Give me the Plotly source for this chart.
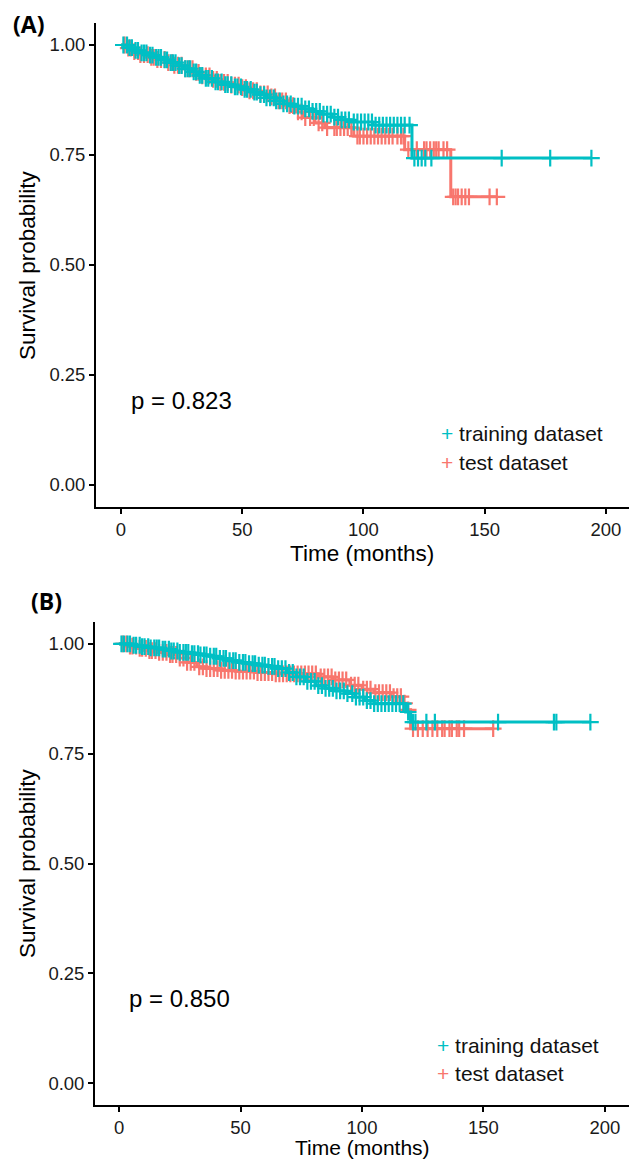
import numpy as np
import plotly.graph_objects as go

# ---------------- data ----------------
# Panel A: step points (time in months, survival after the step)
a_train_t = [0, 3, 5, 8, 11, 14, 17, 20, 23, 26, 29, 32, 35, 38, 42, 46, 50, 54, 57, 60, 64, 67, 71, 75, 79, 83, 87, 91, 95, 104, 120]
a_train_s = [1.0, 0.994, 0.988, 0.982, 0.977, 0.972, 0.966, 0.960, 0.953, 0.946, 0.939, 0.931, 0.924, 0.916, 0.910, 0.905, 0.899, 0.893, 0.887, 0.880, 0.873, 0.866, 0.861, 0.855, 0.849, 0.843, 0.836, 0.830, 0.825, 0.818, 0.743]
a_train_c = [1, 2.5, 3.5, 4.5, 6, 7, 8.5, 9.5, 10.5, 12, 13, 14.5, 15.5, 16.5, 18, 19, 20.5, 21.5, 22.5, 24, 25, 26.5, 27.5, 28.5, 30, 31, 32.5, 33.5, 35, 36, 37.5, 39, 40, 41.5, 43, 44, 45.5, 47, 48, 49.5, 51, 52, 53.5, 55, 56, 57.5, 59, 60, 61.5, 63, 64, 65.5, 67, 68.5, 70, 71.5, 73, 74.5, 76, 77.5, 79, 80.5, 82, 83.5, 85, 86.5, 88, 89.5, 91, 92.5, 94, 96, 97.5, 99, 100.5, 102, 103.5, 105, 106.5, 108, 109.5, 111, 112.5, 114, 115.5, 117, 119, 121, 122.5, 124, 125.5, 128, 157, 177, 194]

a_test_t = [0, 2, 5, 8, 12, 15, 19, 22, 26, 30, 33, 37, 41, 45, 49, 53, 57, 61, 65, 69, 72, 75, 80, 84, 96, 117, 136]
a_test_s = [1.0, 0.993, 0.985, 0.978, 0.972, 0.967, 0.960, 0.954, 0.946, 0.938, 0.930, 0.922, 0.915, 0.909, 0.903, 0.896, 0.889, 0.882, 0.873, 0.862, 0.848, 0.835, 0.823, 0.812, 0.793, 0.762, 0.655]
a_test_c = [1.5, 3, 4, 5.5, 7, 8, 9.5, 11, 12.5, 13.5, 15, 16.5, 18, 19.5, 21, 22, 23.5, 25, 26.5, 28, 29.5, 31, 32, 33.5, 35, 36.5, 38, 39.5, 41, 42.5, 44, 45.5, 47, 48.5, 50, 51.5, 53, 54.5, 56, 57.5, 59, 60.5, 62, 63.5, 65, 66.5, 68, 69.5, 71, 73, 74.5, 76, 78, 79.5, 81.5, 83, 85, 88, 89, 90.5, 92, 93.5, 95, 97.5, 98.5, 100, 101.5, 103, 104.5, 106, 107.5, 109, 110.5, 112, 114, 115.5, 116.5, 118.5, 120, 122, 125, 126, 127.5, 129, 130, 131, 133, 134.5, 137, 138, 139, 140.5, 142, 143.5, 152, 155]

# Panel B
b_train_t = [0, 5, 9, 13, 17, 21, 25, 29, 33, 37, 41, 45, 49, 53, 57, 61, 65, 69, 73, 77, 81, 85, 89, 93, 97, 101, 105, 118, 120]
b_train_s = [1.0, 0.997, 0.994, 0.991, 0.988, 0.984, 0.981, 0.978, 0.975, 0.972, 0.967, 0.962, 0.958, 0.955, 0.952, 0.949, 0.944, 0.935, 0.925, 0.915, 0.905, 0.899, 0.893, 0.887, 0.879, 0.871, 0.864, 0.845, 0.822]
b_train_c = [1, 2, 3.5, 4.5, 6, 7, 8.5, 9.5, 10.5, 12, 13, 14.5, 15.5, 16.5, 18, 19, 20.5, 21.5, 22.5, 24, 25, 26.5, 27.5, 28.5, 30, 31, 32.5, 33.5, 35, 36, 37.5, 39, 40, 41.5, 43, 44, 45.5, 47, 48, 49.5, 51, 52, 53.5, 55, 56, 57.5, 59, 60, 61.5, 63, 64, 65.5, 67, 68.5, 70, 71.5, 73, 74.5, 76, 77.5, 79, 80.5, 82, 83.5, 85, 86.5, 88, 89.5, 91, 92.5, 94, 96, 97.5, 99, 100.5, 102, 103.5, 105, 106.5, 108, 109.5, 111, 112.5, 114, 115.5, 117, 119, 121, 122, 126.5, 130, 156, 179, 180, 194]

b_test_t = [0, 4, 8, 12, 16, 20, 24, 28, 32, 36, 42, 48, 56, 64, 82, 88, 95, 100, 105, 112, 117, 118, 120]
b_test_s = [1.0, 0.995, 0.990, 0.985, 0.981, 0.976, 0.968, 0.958, 0.948, 0.944, 0.940, 0.938, 0.935, 0.932, 0.925, 0.918, 0.906, 0.897, 0.889, 0.880, 0.865, 0.850, 0.807]
b_test_c = [1.5, 3, 4.5, 5.5, 7, 8.5, 9.5, 11, 12.5, 13.5, 15, 16.5, 18, 19.5, 21, 22, 23.5, 25, 26.5, 28, 29.5, 31, 33, 34.5, 36, 37.5, 39, 40.5, 42, 43.5, 45, 46.5, 48, 49.5, 51, 52.5, 54, 55.5, 57, 58.5, 60, 61.5, 63, 64.5, 66, 67.5, 69, 70.5, 72, 73.5, 75, 76.5, 78, 79.5, 81, 83, 84.5, 86, 87.5, 89, 90.5, 92, 93.5, 95.5, 97, 98.5, 100.5, 102, 103.5, 105.5, 107, 108.5, 110, 111.5, 113, 114.5, 116, 117.5, 119, 121, 123, 125, 127, 129, 131, 133, 134, 136, 137, 139, 140, 142, 154]

labels = ["training dataset", "test dataset"]
p_values = ["p = 0.823", "p = 0.850"]
panel_tags = ["(A)", "(B)"]
y_ticks = [0.0, 0.25, 0.5, 0.75, 1.0]
x_ticks = [0, 50, 100, 150, 200]

TEAL = "#00BFC4"
RED = "#F8766D"
W, H = 629, 1160
FONT = "Liberation Sans, Arial, sans-serif"


def surv_at(times, surv, q):
    idx = np.searchsorted(np.array(times), np.array(q), side="right") - 1
    return np.array(surv)[idx]


def px_x(px):
    return px / W


def px_y(py):
    return 1 - py / H


fig = go.Figure()

panels = [
    dict(tr=(a_train_t, a_train_s, a_train_c), te=(a_test_t, a_test_s, a_test_c), xa="x", ya="y"),
    dict(tr=(b_train_t, b_train_s, b_train_c), te=(b_test_t, b_test_s, b_test_c), xa="x2", ya="y2"),
]

for p in panels:
    for (t, s, c), col in [(p["te"], RED), (p["tr"], TEAL)]:
        tx = list(t) + [max(c)]
        sy = list(s) + [s[-1]]
        fig.add_trace(go.Scatter(x=tx, y=sy, mode="lines", line=dict(color=col, width=3, shape="hv"),
                                 xaxis=p["xa"], yaxis=p["ya"], showlegend=False, hoverinfo="skip"))
        fig.add_trace(go.Scatter(x=c, y=surv_at(t, s, c), mode="markers",
                                 marker=dict(symbol="cross-thin", size=12, line=dict(color=col, width=2.2)),
                                 xaxis=p["xa"], yaxis=p["ya"], showlegend=False, hoverinfo="skip"))

axis_common = dict(showgrid=False, zeroline=False, showline=True, linecolor="black", linewidth=1.8,
                   ticks="outside", ticklen=5, tickwidth=1.5, tickcolor="black",
                   tickfont=dict(family=FONT, size=18.5, color="#1a1a1a"))

# panel A: plot area y 23..507 px; panel B: 622..1105 px; x from 96 px to right edge
fig.update_layout(
    width=W, height=H, margin=dict(l=0, r=0, t=0, b=0),
    plot_bgcolor="white", paper_bgcolor="white",
    xaxis=dict(domain=[px_x(96), 1], range=[-10.3, 209.5], tickvals=x_ticks, anchor="y", **axis_common),
    yaxis=dict(domain=[px_y(507), px_y(23)], range=[-0.05, 1.05], tickvals=y_ticks, tickformat=".2f",
               anchor="x", **axis_common),
    xaxis2=dict(domain=[px_x(95), 1], range=[-9.9, 209.9], tickvals=x_ticks, anchor="y2", **axis_common),
    yaxis2=dict(domain=[px_y(1105), px_y(622)], range=[-0.05, 1.05], tickvals=y_ticks, tickformat=".2f",
                anchor="x2", **axis_common),
)

ann = []
# panel layout positions (pixels)
pos = [
    dict(tag=(11, 24), ytitle_c=265, xtitle=553, xt_size=22.5, pval=(129, 400), leg=(439, 433, 463)),
    dict(tag=(29, 601), ytitle_c=863, xtitle=1147, xt_size=21, pval=(127, 998), leg=(435, 1045, 1073)),
]
for i, q in enumerate(pos):
    ann.append(dict(x=px_x(q["tag"][0]), y=px_y(q["tag"][1]), xref="paper", yref="paper", xanchor="left",
                    yanchor="middle", text="<b>%s</b>" % panel_tags[i], showarrow=False,
                    font=dict(family="Open Sans, Noto Sans, sans-serif", size=23, color="black")))
    ann.append(dict(x=px_x(27), y=px_y(q["ytitle_c"]), xref="paper", yref="paper", textangle=-90,
                    xanchor="center", yanchor="middle", text="Survival probability", showarrow=False,
                    font=dict(family=FONT, size=22.5, color="black")))
    ann.append(dict(x=px_x(362), y=px_y(q["xtitle"]), xref="paper", yref="paper", xanchor="center",
                    yanchor="middle", text="Time (months)", showarrow=False,
                    font=dict(family=FONT, size=q["xt_size"], color="black")))
    ann.append(dict(x=px_x(q["pval"][0]), y=px_y(q["pval"][1]), xref="paper", yref="paper", xanchor="left",
                    yanchor="middle", text=p_values[i], showarrow=False,
                    font=dict(family=FONT, size=24, color="black")))
    for lab, col, yy in [(labels[0], TEAL, q["leg"][1]), (labels[1], RED, q["leg"][2])]:
        ann.append(dict(x=px_x(q["leg"][0]), y=px_y(yy), xref="paper", yref="paper", xanchor="left",
                        yanchor="middle", text="<span style='color:%s'>+</span> %s" % (col, lab),
                        showarrow=False, font=dict(family=FONT, size=21, color="#111111")))
fig.update_layout(annotations=ann)

fig.write_html("out.html", config={"displayModeBar": False},
               post_script="document.body.style.margin='0';document.body.style.padding='0';")
